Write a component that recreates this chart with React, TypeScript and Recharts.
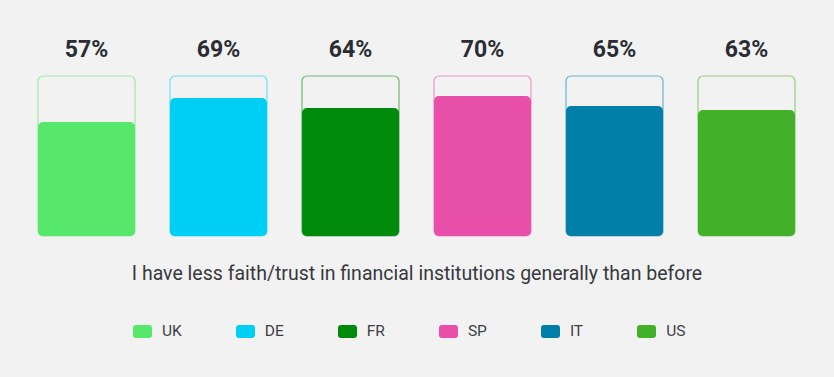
import { BarChart, Bar, XAxis, YAxis, Cell, LabelList } from 'recharts';

const countries = ['UK', 'DE', 'FR', 'SP', 'IT', 'US'];
const shares = [57, 69, 64, 70, 65, 63];
const capacity = [80, 80, 80, 80, 80, 80];
const colors = ['#57e86b', '#00cff5', '#008a0c', '#e84fa8', '#0080a8', '#43b02a'];
const caption = 'I have less faith/trust in financial institutions generally than before';

const chartData = countries.map((name, i) => ({
  name,
  share: shares[i],
  cap: capacity[i],
}));

const FONT = 'Roboto, "Noto Sans", sans-serif';

function CountryLegend() {
  return (
    <div
      style={{
        position: 'absolute',
        top: 322,
        left: 133,
        display: 'flex',
        gap: 54,
        fontFamily: FONT,
      }}
    >
      {countries.map((c, i) => (
        <div key={c} style={{ display: 'flex', alignItems: 'center' }}>
          <span
            style={{
              display: 'inline-block',
              width: 19,
              height: 13,
              borderRadius: 3,
              background: colors[i],
              marginRight: 10,
            }}
          />
          <span style={{ fontSize: 15.5, color: '#3d4145' }}>{c}</span>
        </div>
      ))}
    </div>
  );
}

export default function App() {
  return (
    <div
      style={{
        position: 'absolute',
        left: 0,
        top: 0,
        width: 834,
        height: 377,
        background: '#f2f2f2',
        overflow: 'hidden',
      }}
    >
      <BarChart
        width={834}
        height={377}
        data={chartData}
        margin={{ top: 76, right: 22, bottom: 141, left: 20 }}
        barSize={97}
        barGap={-97}
      >
        <XAxis dataKey="name" hide />
        <YAxis domain={[0, 80]} hide />
        <Bar dataKey="cap" isAnimationActive={false} radius={5}>
          {chartData.map((d, i) => (
            <Cell
              key={`cap-${d.name}`}
              fill="none"
              stroke={colors[i]}
              strokeOpacity={0.55}
              strokeWidth={1.2}
            />
          ))}
          <LabelList
            dataKey="share"
            position="top"
            offset={19}
            formatter={(v: any) => `${v}%`}
            style={{ fontFamily: FONT, fontSize: 23, fontWeight: 700, fill: '#2a2e33' }}
          />
        </Bar>
        <Bar dataKey="share" isAnimationActive={false} radius={5}>
          {chartData.map((d, i) => (
            <Cell key={`share-${d.name}`} fill={colors[i]} />
          ))}
        </Bar>
      </BarChart>
      <div
        style={{
          position: 'absolute',
          top: 262,
          left: 0,
          width: 834,
          textAlign: 'center',
          fontFamily: FONT,
          fontSize: 19.5,
          color: '#36393d',
        }}
      >
        {caption}
      </div>
      <CountryLegend />
    </div>
  );
}
